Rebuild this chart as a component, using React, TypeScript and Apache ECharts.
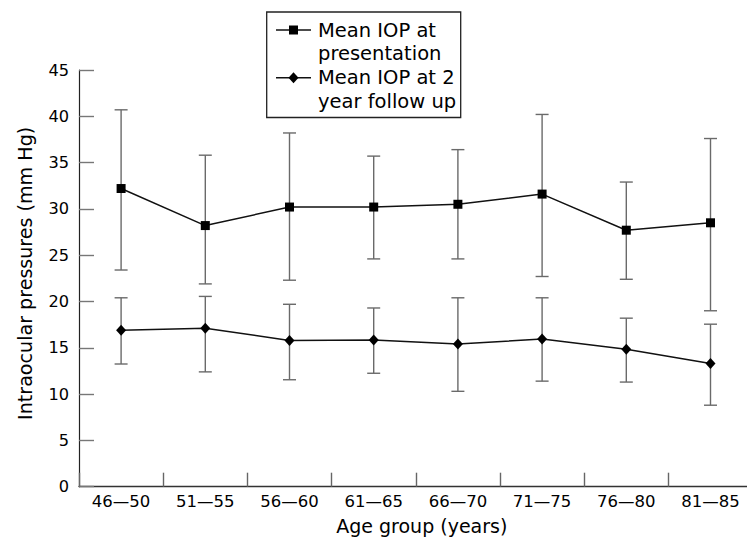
import React, { useEffect, useRef } from "react";
import * as echarts from "echarts";

const categories = ["46\u201450", "51\u201455", "56\u201460", "61\u201465", "66\u201470", "71\u201475", "76\u201480", "81\u201485"];
const seriesNames = ["Mean IOP at presentation", "Mean IOP at 2 year follow up"];
const legendLabels = ["Mean IOP at\npresentation", "Mean IOP at 2\nyear follow up"];

const presentationMean = [32.2, 28.2, 30.2, 30.2, 30.5, 31.6, 27.7, 28.5];
const presentationHigh = [40.7, 35.8, 38.2, 35.7, 36.4, 40.2, 32.9, 37.6];
const presentationLow = [23.4, 21.9, 22.3, 24.6, 24.6, 22.7, 22.4, 19.0];

const followupMean = [16.9, 17.1, 15.8, 15.85, 15.4, 15.95, 14.85, 13.3];
const followupHigh = [20.4, 20.55, 19.7, 19.3, 20.4, 20.4, 18.2, 17.55];
const followupLow = [13.25, 12.4, 11.55, 12.25, 10.3, 11.4, 11.3, 8.8];

const yTicks = { min: 0, max: 45, interval: 5 };

const FONT = "DejaVu Sans";

function errorBarSeries(low: number[], high: number[]) {
  return {
    type: "custom",
    z: 1,
    silent: true,
    data: low.map((l, i) => [i, l, high[i]]),
    renderItem: (params: any, api: any) => {
      const i = api.value(0);
      const lo = api.coord([i, api.value(1)]);
      const hi = api.coord([i, api.value(2)]);
      const cap = 6.5;
      const style = { stroke: "#6a6a6a", lineWidth: 1.4 };
      return {
        type: "group",
        children: [
          { type: "line", shape: { x1: lo[0], y1: lo[1], x2: hi[0], y2: hi[1] }, style },
          { type: "line", shape: { x1: hi[0] - cap, y1: hi[1], x2: hi[0] + cap, y2: hi[1] }, style },
          { type: "line", shape: { x1: lo[0] - cap, y1: lo[1], x2: lo[0] + cap, y2: lo[1] }, style },
        ],
      };
    },
  };
}

function legendGraphic() {
  const boxX = 266.7, boxY = 12, boxW = 194, boxH = 105.5;
  const lineX1 = 276, lineX2 = 311, cx = 293.5;
  const textX = 318;
  const rowY = [30, 77.7];
  const children: any[] = [
    { type: "rect", shape: { x: boxX, y: boxY, width: boxW, height: boxH }, style: { fill: "#fff", stroke: "#222", lineWidth: 1.3 } },
  ];
  rowY.forEach((y, k) => {
    children.push({ type: "line", shape: { x1: lineX1, y1: y, x2: lineX2, y2: y }, style: { stroke: "#111", lineWidth: 1.5 } });
    if (k === 0) {
      children.push({ type: "rect", shape: { x: cx - 4.5, y: y - 4.5, width: 9, height: 9 }, style: { fill: "#000" } });
    } else {
      children.push({
        type: "polygon",
        shape: { points: [[cx, y - 5.5], [cx + 5, y], [cx, y + 5.5], [cx - 5, y]] },
        style: { fill: "#000" },
      });
    }
    children.push({
      type: "text",
      x: textX,
      y: y - 11.75,
      style: {
        text: legendLabels[k],
        fontSize: 19.5,
        fontFamily: FONT,
        fill: "#000",
        lineHeight: 23.5,
        verticalAlign: "top",
        align: "left",
      },
    });
  });
  return { type: "group", children };
}

export default function App() {
  const ref = useRef<HTMLDivElement>(null);
  useEffect(() => {
    document.body.style.margin = "0";
    const chart = echarts.init(ref.current!, undefined, { renderer: "svg" });
    chart.setOption({
      animation: false,
      backgroundColor: "#fff",
      textStyle: { fontFamily: FONT },
      grid: { left: 79, top: 70, bottom: 52.3, right: -5.6, containLabel: false, outerBoundsMode: "none" },
      xAxis: {
        type: "category",
        data: categories,
        boundaryGap: true,
        name: "Age group (years)",
        nameLocation: "middle",
        nameGap: 30,
        nameTextStyle: { fontSize: 19, fontFamily: FONT, color: "#000", padding: [0, 0, 0, 12] },
        axisLine: { show: true, lineStyle: { color: "#333", width: 1.3 } },
        axisTick: { show: true, inside: true, length: 14, lineStyle: { color: "#666", width: 1.4 } },
        axisLabel: { fontSize: 16.5, fontFamily: FONT, color: "#000", margin: 6 },
        splitLine: { show: false },
      },
      yAxis: {
        type: "value",
        min: yTicks.min,
        max: yTicks.max,
        interval: yTicks.interval,
        name: "Intraocular pressures (mm Hg)",
        nameLocation: "middle",
        nameGap: 44,
        nameTextStyle: { fontSize: 19.1, fontFamily: FONT, color: "#000", padding: [0, 0, 0, 10] },
        axisLine: { show: true, lineStyle: { color: "#222", width: 1.2 } },
        axisTick: { show: true, inside: true, length: 15, lineStyle: { color: "#777", width: 1.4 } },
        axisLabel: { fontSize: 16.2, fontFamily: FONT, color: "#000", margin: 10 },
        splitLine: { show: false },
      },
      graphic: [legendGraphic()],
      series: [
        errorBarSeries(presentationLow, presentationHigh),
        errorBarSeries(followupLow, followupHigh),
        {
          name: seriesNames[0],
          type: "line",
          z: 3,
          data: presentationMean,
          symbol: "rect",
          symbolSize: 9,
          lineStyle: { color: "#111", width: 1.5 },
          itemStyle: { color: "#000" },
        },
        {
          name: seriesNames[1],
          type: "line",
          z: 3,
          data: followupMean,
          symbol: "diamond",
          symbolSize: [10, 11],
          lineStyle: { color: "#111", width: 1.5 },
          itemStyle: { color: "#000" },
        },
      ],
    });
    return () => chart.dispose();
  }, []);
  return <div ref={ref} style={{ position: "absolute", left: 0, top: 0, width: 747, height: 539 }} />;
}
